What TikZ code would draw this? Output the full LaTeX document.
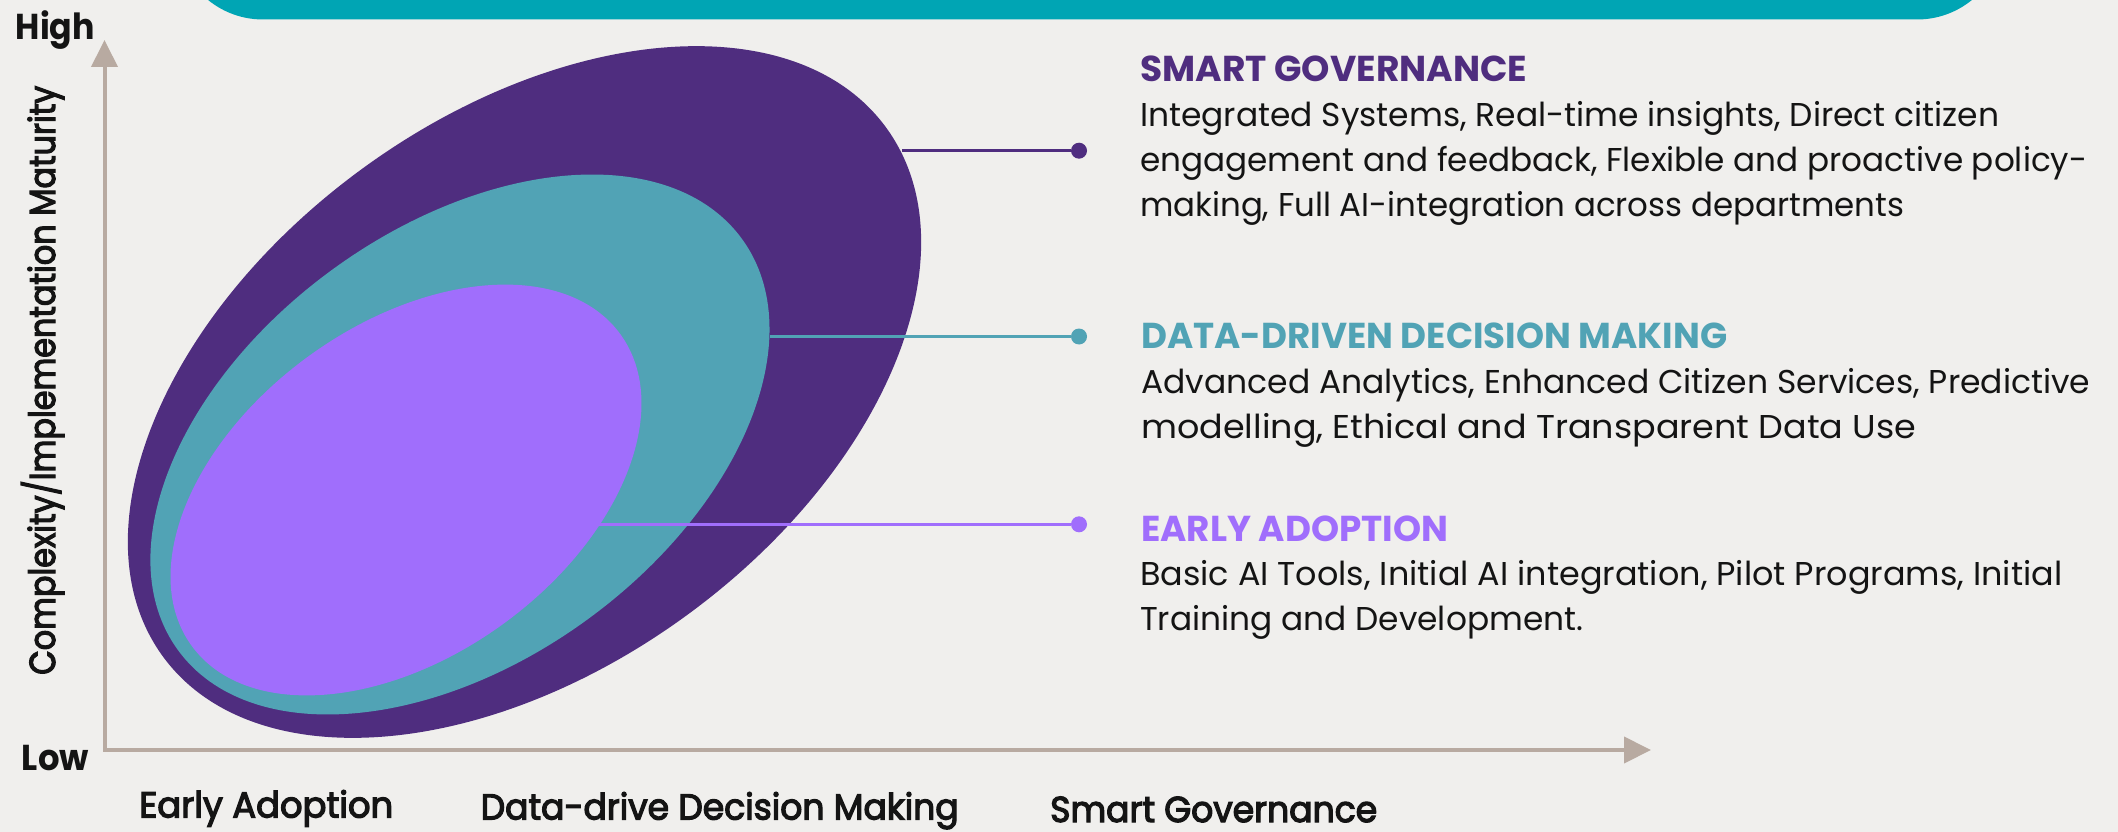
\documentclass[tikz,border=0pt]{standalone}
\usepackage{fontspec}
\setmainfont{Poppins}
\newfontfamily\mediumface{Poppins}[FakeBold=3.5]
\usepackage{graphicx}
\usetikzlibrary{arrows.meta}

\definecolor{bgcol}{HTML}{F0EFED}
\definecolor{barcol}{HTML}{00A5B4}
\definecolor{darkp}{HTML}{4F2D7F}
\definecolor{tealp}{HTML}{51A3B5}
\definecolor{lightp}{HTML}{A06EFC}
\definecolor{axiscol}{HTML}{B8AAA1}
\definecolor{inkcol}{HTML}{141414}

% squeeze a line of text horizontally to a given width (in pt), height unchanged
\newcommand\fitto[2]{\resizebox{#1pt}{\height}{#2}}

\tikzset{
  axisline/.style={draw=axiscol, line width=4pt,
    arrows={Triangle[length=27pt,width=26pt]-Triangle[length=27pt,width=26pt]}},
  conn/.style={line width=3pt},
  enddot/.style={circle, inner sep=0pt, minimum size=16pt},
  headtext/.style={anchor=base west, inner sep=0pt, font=\bfseries\fontsize{36}{36}\selectfont},
  bodytext/.style={anchor=base west, inner sep=0pt, text=inkcol, font=\fontsize{33}{33}\selectfont},
  endtext/.style={anchor=base west, inner sep=0pt, text=inkcol, font=\bfseries\fontsize{36}{36}\selectfont},
  axistext/.style={anchor=base west, inner sep=0pt, text=inkcol, font=\mediumface\fontsize{36}{36}\selectfont},
}

\begin{document}
\begin{tikzpicture}[x=1pt, y=-1pt]
  \useasboundingbox[fill=bgcol] (0,0) rectangle (2118,832);

  % banner running off the top edge
  \begin{scope}
    \clip (0,0) rectangle (2118,832);
    \fill[barcol, rounded corners=87pt] (176,-200) rectangle (2004,19.5);
  \end{scope}

  % axes
  \coordinate (origin) at (104.5,750);
  \coordinate (ytop) at (104.5,40);
  \coordinate (xend) at (1651,750);
  \draw[axisline] (ytop) -- (origin) -- (xend);

  % maturity regions
  \coordinate (cOuter) at (524.5,392);
  \coordinate (cMid) at (460,444.5);
  \coordinate (cInner) at (406,490);
  \fill[darkp, rotate around={36.2:(cOuter)}] (cOuter) ellipse [x radius=448, y radius=276];
  \fill[tealp, rotate around={36.1:(cMid)}] (cMid) ellipse [x radius=349, y radius=216.5];
  \fill[lightp, rotate around={36:(cInner)}] (cInner) ellipse [x radius=265, y radius=165.5];

  % leader lines
  \coordinate (sgEdge) at (902,150.7);
  \coordinate (ddEdge) at (770,336.5);
  \coordinate (eaEdge) at (598,524.3);
  \node[enddot, fill=darkp] (sgDot) at (1079,150.7) {};
  \node[enddot, fill=tealp] (ddDot) at (1079,336.5) {};
  \node[enddot, fill=lightp] (eaDot) at (1079,524.3) {};
  \draw[conn, darkp] (sgEdge) -- (sgDot);
  \draw[conn, tealp] (ddEdge) -- (ddDot);
  \draw[conn, lightp] (eaEdge) -- (eaDot);

  % stage descriptions
  \node[headtext, text=darkp] (sgHead) at (1140,81.7) {\fitto{387}{SMART GOVERNANCE}};
  \node[bodytext] (sgL1) at (1140,126.7) {\fitto{859}{Integrated Systems, Real-time insights, Direct citizen}};
  \node[bodytext] (sgL2) at (1140,171.7) {\fitto{947}{engagement and feedback, Flexible and proactive policy-}};
  \node[bodytext] (sgL3) at (1140,216.7) {\fitto{764}{making, Full AI-integration across departments}};

  \node[headtext, text=tealp] (ddHead) at (1141,348) {\fitto{586}{DATA-DRIVEN DECISION MAKING}};
  \node[bodytext] (ddL1) at (1141,393) {\fitto{949}{Advanced Analytics, Enhanced Citizen Services, Predictive}};
  \node[bodytext] (ddL2) at (1141,438) {\fitto{775}{modelling, Ethical and Transparent Data Use}};

  \node[headtext, text=lightp] (eaHead) at (1141,541.7) {\fitto{307}{EARLY ADOPTION}};
  \node[bodytext] (eaL1) at (1140,585) {\fitto{922}{Basic AI Tools, Initial AI integration, Pilot Programs, Initial}};
  \node[bodytext] (eaL2) at (1140,630) {\fitto{443}{Training and Development.}};

  % axis labels
  \node[endtext] (high) at (15.6,39.3) {\fitto{79}{High}};
  \node[endtext] (low) at (21.7,770) {\fitto{67}{Low}};
  \node[axistext, rotate=90] (ylab) at (55,675) {\fitto{589}{Complexity/Implementation Maturity}};
  \node[axistext] (xEarly) at (139,817.5) {\fitto{254}{Early Adoption}};
  \node[axistext] (xData) at (480.5,819.5) {\fitto{478}{Data-drive Decision Making}};
  \node[axistext] (xSmart) at (1050,822) {\fitto{327}{Smart Governance}};
\end{tikzpicture}
\end{document}
